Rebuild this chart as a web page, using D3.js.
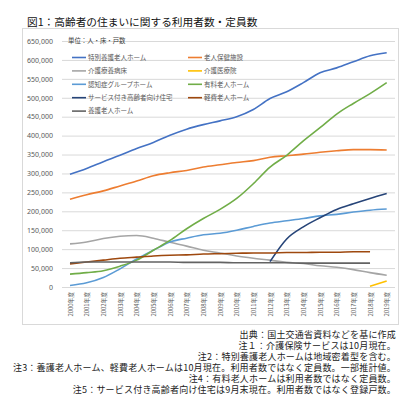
<!DOCTYPE html>
<html>
<head>
<meta charset="utf-8">
<script src="https://cdn.jsdelivr.net/npm/d3@7"></script>
<style>
  body { margin: 0; background: #fff; }
  text { font-family: "Noto Sans CJK JP", "Noto Sans", sans-serif; }
</style>
</head>
<body>
<script>
// data
const years = ["2000年度","2001年度","2002年度","2003年度","2004年度","2005年度","2006年度","2007年度","2008年度","2009年度",
               "2010年度","2011年度","2012年度","2013年度","2014年度","2015年度","2016年度","2017年度","2018年度","2019年度"];
const yTicks = [0,50000,100000,150000,200000,250000,300000,350000,400000,450000,500000,550000,600000,650000];

const tokuyou   = [298000,313000,331000,348000,366000,382000,401000,417000,429000,439000,450000,469000,498000,516000,540000,566000,579000,595000,611000,619000];
const rouken    = [232000,244000,254000,267000,280000,294000,302000,308000,317000,323000,329000,334000,343000,347000,351000,356000,360000,363000,363000,362000];
const ryouyou   = [114000,119000,128000,134000,136000,129000,118000,108000,97000,90000,82000,76000,71000,65000,62000,56000,52000,46000,38000,31000];
const iryouin   = [null,null,null,null,null,null,null,null,null,null,null,null,null,null,null,null,null,null,2000,16000];
const grouphome = [4000,11000,25000,48000,74000,97000,119000,129000,138000,142000,150000,160000,169000,175000,181000,188000,192000,198000,203000,206000];
const yuryou    = [34000,38000,43000,55000,71000,97000,123000,154000,181000,205000,234000,273000,317000,348000,386000,421000,457000,485000,511000,540000];
const sakouju   = [null,null,null,null,null,null,null,null,null,null,null,null,67000,127000,159000,183000,205000,220000,234000,247000];
const keihi     = [61000,66000,71000,76000,79000,82000,84000,85000,87000,88000,89000,90000,90000,91000,91000,92000,92000,93000,93000,null];
const yougo     = [64000,66000,66000,66000,66000,66000,66000,65000,65000,65000,64000,64000,64000,64000,63000,63000,63000,63000,63000,null];

const seriesNames  = ["特別養護老人ホーム","老人保健施設","介護療養病床","介護医療院","認知症グループホーム","有料老人ホーム","サービス付き高齢者向け住宅","軽費老人ホーム","養護老人ホーム"];
const seriesValues = [tokuyou, rouken, ryouyou, iryouin, grouphome, yuryou, sakouju, keihi, yougo];
const seriesColors = ["#4472C4","#ED7D31","#A5A5A5","#FFC000","#5B9BD5","#70AD47","#264478","#9E480E","#636363"];

const notes = [
  "出典：国土交通省資料などを基に作成",
  "注１：介護保険サービスは10月現在。",
  "注2：特別養護老人ホームは地域密着型を含む。",
  "注3：養護老人ホーム、軽費老人ホームは10月現在。利用者数ではなく定員数。一部推計値。",
  "注4：有料老人ホームは利用者数ではなく定員数。",
  "注5：サービス付き高齢者向け住宅は9月末現在。利用者数ではなく登録戸数。"
];

const outerWidth = 416, outerHeight = 410;

const svg = d3.select("body").append("svg")
    .attr("width", outerWidth)
    .attr("height", outerHeight);

// title
svg.append("text")
    .attr("x", 27).attr("y", 26)
    .style("font-size", "10.7px")
    .style("fill", "#111")
    .text("図1：高齢者の住まいに関する利用者数・定員数");

// chart frame
svg.append("rect")
    .attr("x", 22.5).attr("y", 28.5)
    .attr("width", 376).attr("height", 296)
    .style("fill", "#fff")
    .style("stroke", "#d9d9d9");

const plotLeft = 62, plotRight = 395;

const xScale = d3.scalePoint()
    .domain(years)
    .range([70, 386.7]);

const yScale = d3.scaleLinear()
    .domain([0, 650000])
    .range([287, 41]);

// y axis + gridlines
const yAxis = d3.axisLeft(yScale)
    .tickValues(yTicks)
    .tickFormat(d3.format(","))
    .tickSize(-(plotRight - plotLeft))
    .tickPadding(9);

const yG = svg.append("g")
    .attr("transform", "translate(" + plotLeft + ",0)")
    .call(yAxis);
yG.select(".domain").remove();
yG.selectAll("line").style("stroke", "#d9d9d9");
yG.selectAll("text")
    .style("font-size", "7px")
    .style("fill", "#595959")
    .style("font-family", "'Noto Sans', sans-serif");

// x axis labels
const xAxis = d3.axisBottom(xScale).tickSize(0);
const xG = svg.append("g")
    .attr("transform", "translate(0,287)")
    .call(xAxis);
xG.select(".domain").remove();
xG.selectAll("text")
    .attr("transform", "rotate(-90)")
    .attr("x", -5)
    .attr("y", 0)
    .attr("dy", "0.35em")
    .style("text-anchor", "end")
    .style("font-size", "5.8px")
    .style("fill", "#595959");

// lines
const line = d3.line()
    .defined(d => d.v !== null)
    .x(d => xScale(d.year))
    .y(d => yScale(d.v))
    .curve(d3.curveMonotoneX);

svg.selectAll(".series")
    .data(seriesValues)
    .join("path")
    .attr("class", "series")
    .attr("d", vals => line(vals.map((v, i) => ({year: years[i], v: v}))))
    .style("fill", "none")
    .style("stroke", (d, i) => seriesColors[i])
    .style("stroke-width", 1.6)
    .style("stroke-linejoin", "round");

// legend
svg.append("text")
    .attr("x", 68).attr("y", 43.3)
    .style("font-size", "6.4px")
    .style("fill", "#404040")
    .text("単位：人・床・戸数");

const legend = svg.selectAll(".legend")
    .data(seriesNames)
    .join("g")
    .attr("class", "legend")
    .attr("transform", (d, i) => "translate(" + (i % 2 === 0 ? 72 : 188) + "," + (57.5 + Math.floor(i / 2) * 13.4) + ")");

legend.append("line")
    .attr("x1", 0).attr("x2", 14)
    .style("stroke", (d, i) => seriesColors[i])
    .style("stroke-width", 1.6);

legend.append("text")
    .attr("x", 16).attr("dy", "0.35em")
    .style("font-size", "6.5px")
    .style("fill", "#595959")
    .text(d => d);

// notes under the chart
svg.selectAll(".note")
    .data(notes)
    .join("text")
    .attr("class", "note")
    .attr("x", 396)
    .attr("y", (d, i) => 338 + i * 11)
    .style("text-anchor", "end")
    .style("font-size", "9px")
    .style("letter-spacing", "0.2px")
    .style("fill", "#222")
    .text(d => d);
</script>
</body>
</html>
